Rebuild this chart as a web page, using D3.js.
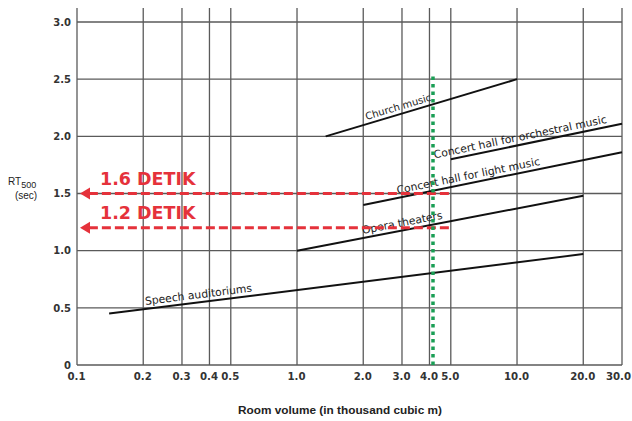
<!DOCTYPE html>
<html>
<head>
<meta charset="utf-8">
<script src="https://cdn.jsdelivr.net/npm/d3@7"></script>
<style>
  body { margin: 0; background: #fff; }
  svg { display: block; }
  .tick text { font-family: "DejaVu Sans", sans-serif; font-weight: bold; fill: #333; }
</style>
</head>
<body>
<svg width="632" height="421"></svg>
<script>
// data (x = room volume in thousand m3, y = RT500 sec)
let xTicks = [0.1, 0.2, 0.3, 0.4, 0.5, 1.0, 2.0, 3.0, 4.0, 5.0, 10.0, 20.0, 30.0]
let yTicks = [0, 0.5, 1.0, 1.5, 2.0, 2.5, 3.0]

let seriesNames = ["Church music", "Concert hall for orchestral music", "Concert hall for light music", "Opera theaters", "Speech auditoriums"]
let startVol = [1.35, 5.0, 2.0, 1.0, 0.14]
let startRT = [2.0, 1.8, 1.4, 1.0, 0.45]
let endVol = [10.0, 30.0, 30.0, 20.0, 20.0]
let endRT = [2.5, 2.11, 1.86, 1.48, 0.97]
// where along each line its label sits (volume)
let labelVol = [2.95, 10.5, 6.1, 3.05, 0.36]

let arrowLabels = ["1.6 DETIK", "1.2 DETIK"]
let arrowRT = [1.5, 1.2]
let arrowFrom = 4.9
let markVol = 4.15
let markTop = 2.55

let width = 632
let height = 421
let margin = { top: 22, right: 10, bottom: 56, left: 77 }

let svg = d3.select("svg")

let x = d3.scaleLog()
    .domain([0.1, 30])
    .range([margin.left, 622])

let y = d3.scaleLinear()
    .domain([0, 3.0])
    .range([365, margin.top])

// grid
svg.append("g")
    .selectAll("line")
    .data(xTicks)
    .join("line")
    .attr("x1", d => x(d)).attr("x2", d => x(d))
    .attr("y1", y(0)).attr("y2", 8)
    .style("stroke", "#5a5a5a")
    .style("stroke-width", 1.3)

svg.append("g")
    .selectAll("line")
    .data(yTicks)
    .join("line")
    .attr("x1", x(0.1)).attr("x2", x(30))
    .attr("y1", d => y(d)).attr("y2", d => y(d))
    .style("stroke", "#5a5a5a")
    .style("stroke-width", d => d == 0 ? 1.6 : 1.3)

let xAxis = d3.axisBottom(x)
    .tickValues(xTicks)
    .tickFormat(d3.format(".1f"))
    .tickSize(0)
    .tickPadding(8)

svg.append("g")
    .attr("class", "x axis")
    .attr("transform", `translate(0,${y(0)})`)
    .call(xAxis)
    .selectAll("text")
    .style("font-size", "10.2px")
    .attr("dx", d => d == 30 ? -4 : -1)

let yAxis = d3.axisLeft(y)
    .tickValues(yTicks)
    .tickFormat(d => d == 0 ? "0" : d3.format(".1f")(d))
    .tickSize(0)
    .tickPadding(6)

svg.append("g")
    .attr("class", "y axis")
    .attr("transform", `translate(${x(0.1)},0)`)
    .call(yAxis)
    .selectAll("text")
    .style("font-size", "10px")

svg.selectAll(".axis .domain").style("display", "none")

// axis titles
let yTitle = svg.append("text")
    .attr("x", 8).attr("y", 185)
    .style("font-family", "Liberation Sans, Arial, sans-serif")
    .style("font-size", "10px")
    .style("fill", "#222")
yTitle.append("tspan").text("RT")
yTitle.append("tspan").attr("dy", 3).style("font-size", "9px").text("500")
svg.append("text")
    .attr("x", 26).attr("y", 199)
    .attr("text-anchor", "middle")
    .style("font-family", "Liberation Sans, Arial, sans-serif")
    .style("font-size", "10px")
    .style("fill", "#222")
    .text("(sec)")

svg.append("text")
    .attr("x", 340).attr("y", 414)
    .attr("text-anchor", "middle")
    .style("font-family", "Liberation Sans, Arial, sans-serif")
    .style("font-weight", "bold")
    .style("font-size", "11.8px")
    .style("fill", "#222")
    .text("Room volume (in thousand cubic m)")

// series lines
let rows = seriesNames.map((name, i) => ({
    name, x0: startVol[i], y0: startRT[i], x1: endVol[i], y1: endRT[i], lx: labelVol[i]
}))

svg.append("g")
    .selectAll("line")
    .data(rows)
    .join("line")
    .attr("x1", d => x(d.x0)).attr("y1", d => y(d.y0))
    .attr("x2", d => x(d.x1)).attr("y2", d => y(d.y1))
    .style("stroke", "#111")
    .style("stroke-width", 2)

// labels along the lines
function rtAt(d, v) {
    let t = (Math.log(v) - Math.log(d.x0)) / (Math.log(d.x1) - Math.log(d.x0))
    return d.y0 + t * (d.y1 - d.y0)
}
svg.append("g")
    .selectAll("text")
    .data(rows)
    .join("text")
    .attr("transform", d => {
        let ang = Math.atan2(y(d.y1) - y(d.y0), x(d.x1) - x(d.x0)) * 180 / Math.PI
        return `translate(${x(d.lx)},${y(rtAt(d, d.lx))}) rotate(${ang})`
    })
    .attr("dy", -4)
    .attr("text-anchor", "middle")
    .style("font-family", "DejaVu Sans, sans-serif")
    .style("font-size", d => d.name == "Church music" ? "10px" : "10.8px")
    .style("fill", "#222")
    .text(d => d.name)

// red arrows
let red = "#e5323b"
let arrows = arrowLabels.map((t, i) => ({ label: t, rt: arrowRT[i] }))
let ag = svg.append("g")
ag.selectAll("line")
    .data(arrows)
    .join("line")
    .attr("x1", x(arrowFrom)).attr("x2", x(0.1) + 10)
    .attr("y1", d => y(d.rt)).attr("y2", d => y(d.rt))
    .style("stroke", red)
    .style("stroke-width", 3)
    .style("stroke-dasharray", "9,4")
ag.selectAll("path")
    .data(arrows)
    .join("path")
    .attr("d", d => {
        let tx = x(0.1) + 3, ty = y(d.rt)
        return `M${tx},${ty} L${tx + 10},${ty - 6} L${tx + 10},${ty + 6} Z`
    })
    .style("fill", red)
ag.selectAll("text")
    .data(arrows)
    .join("text")
    .attr("x", 100)
    .attr("y", d => y(d.rt) - 9)
    .style("font-family", "DejaVu Sans, sans-serif")
    .style("font-weight", "bold")
    .style("font-size", "17.5px")
    .style("fill", red)
    .text(d => d.label)

// green dotted marker
svg.append("line")
    .attr("x1", x(markVol)).attr("x2", x(markVol))
    .attr("y1", y(0)).attr("y2", y(markTop))
    .style("stroke", "#1a9e55")
    .style("stroke-width", 3.5)
    .style("stroke-dasharray", "3.5,4")
</script>
</body>
</html>
